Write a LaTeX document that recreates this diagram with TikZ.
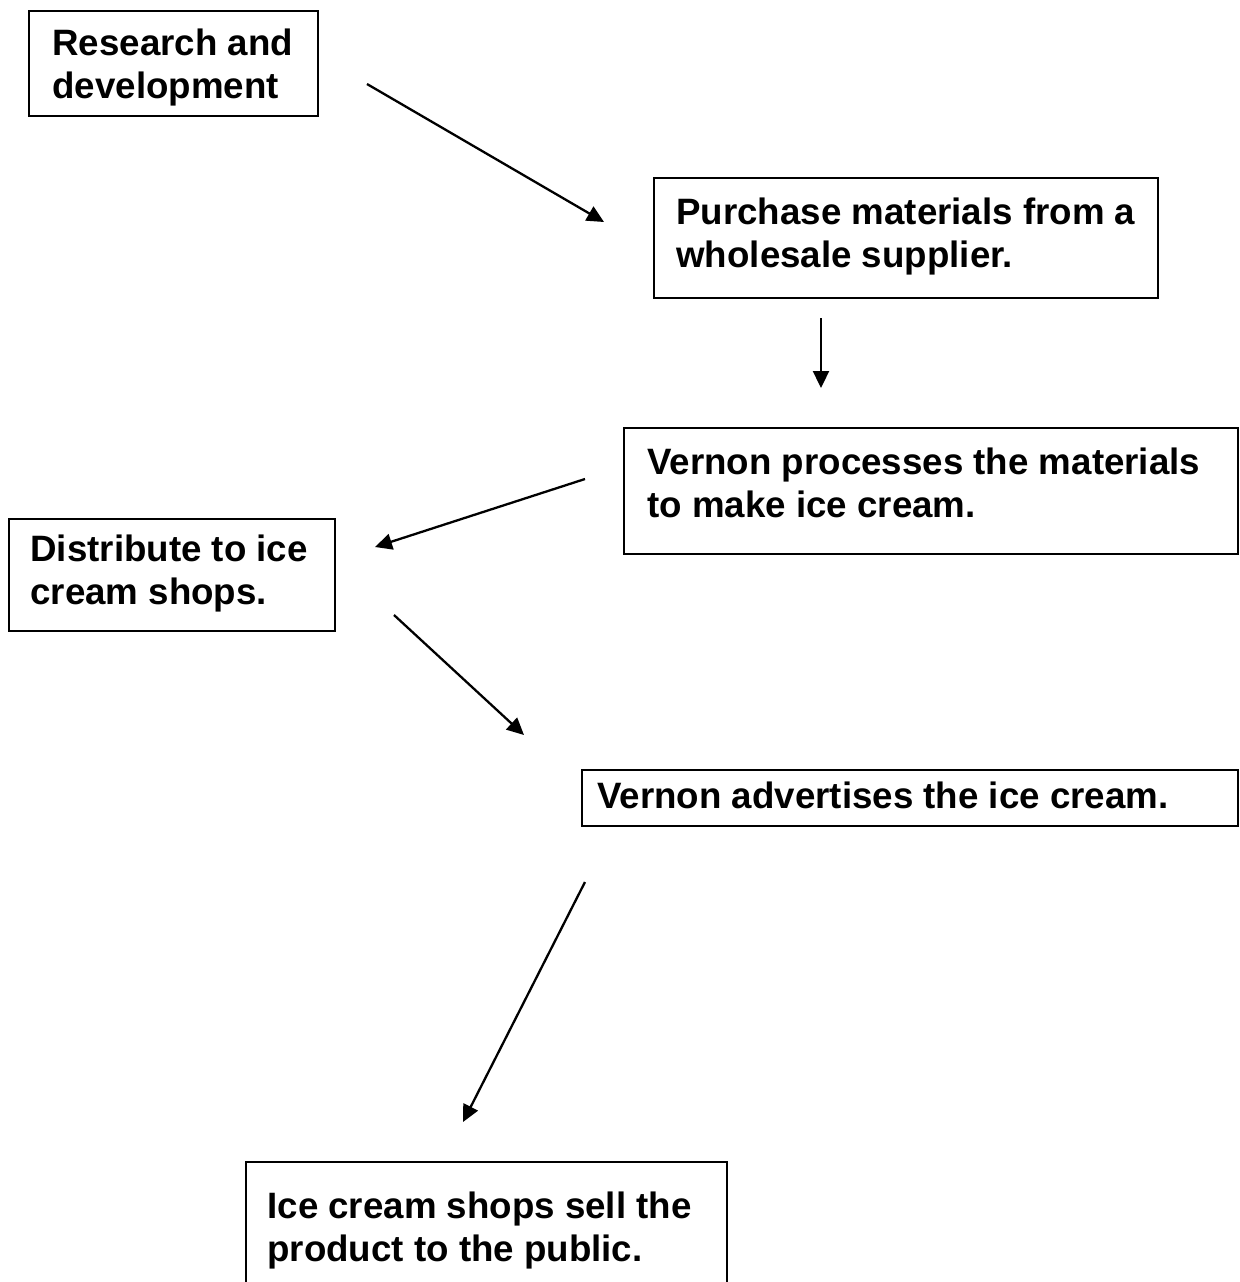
\documentclass[tikz,border=0pt]{standalone}
\usepackage{fontspec}
\setmainfont{Liberation Sans}
\usetikzlibrary{fit,arrows.meta}
\begin{document}
\begin{tikzpicture}[x=0.5pt,y=-0.5pt,
  box/.style={draw=black,line width=1pt,rectangle,inner sep=0pt},
  txt/.style={inner sep=0pt,anchor=base west,font=\fontsize{18.35pt}{21.5pt}\selectfont\bfseries},
  arr/.style={line width=1.15pt,-{Triangle[length=8.5pt,width=8pt]}}]
\useasboundingbox (0,0) rectangle (1240,1282);
\clip (0,0) rectangle (1240,1282);
% boxes
\node[box,fit={(29,11) (318,116)}] (b1) {};
\node[box,fit={(654,178) (1158,298)}] (b2) {};
\node[box,fit={(624,428) (1238,554)}] (b3) {};
\node[box,fit={(9,519) (335,631)}] (b4) {};
\node[box,fit={(582,770) (1238,826)}] (b5) {};
\node[box,fit={(246,1162) (727,1320)}] (b6) {};
% texts
\node[txt] (t1) at (52,55) {\begin{tabular}[t]{@{}l@{}}Research and\\development\end{tabular}};
\node[txt] (t2) at (676,224) {\begin{tabular}[t]{@{}l@{}}Purchase materials from a\\wholesale supplier.\end{tabular}};
\node[txt] (t3) at (647,474) {\begin{tabular}[t]{@{}l@{}}Vernon processes the materials\\to make ice cream.\end{tabular}};
\node[txt] (t4) at (30,561) {\begin{tabular}[t]{@{}l@{}}Distribute to ice\\cream shops.\end{tabular}};
\node[txt] (t5) at (597,808) {Vernon advertises the ice cream.};
\node[txt] (t6) at (267,1218) {\begin{tabular}[t]{@{}l@{}}Ice cream shops sell the\\product to the public.\end{tabular}};
% arrow end points
\coordinate (a1s) at (367,84);  \coordinate (a1e) at (604,222);
\coordinate (a2s) at (821,318); \coordinate (a2e) at (821,388);
\coordinate (a3s) at (585,479); \coordinate (a3e) at (375,547);
\coordinate (a4s) at (394,615); \coordinate (a4e) at (524,735);
\coordinate (a5s) at (585,882); \coordinate (a5e) at (463,1122);
\draw[arr] (a1s) -- (a1e);
\draw[arr] (a2s) -- (a2e);
\draw[arr] (a3s) -- (a3e);
\draw[arr] (a4s) -- (a4e);
\draw[arr] (a5s) -- (a5e);
\end{tikzpicture}
\end{document}
